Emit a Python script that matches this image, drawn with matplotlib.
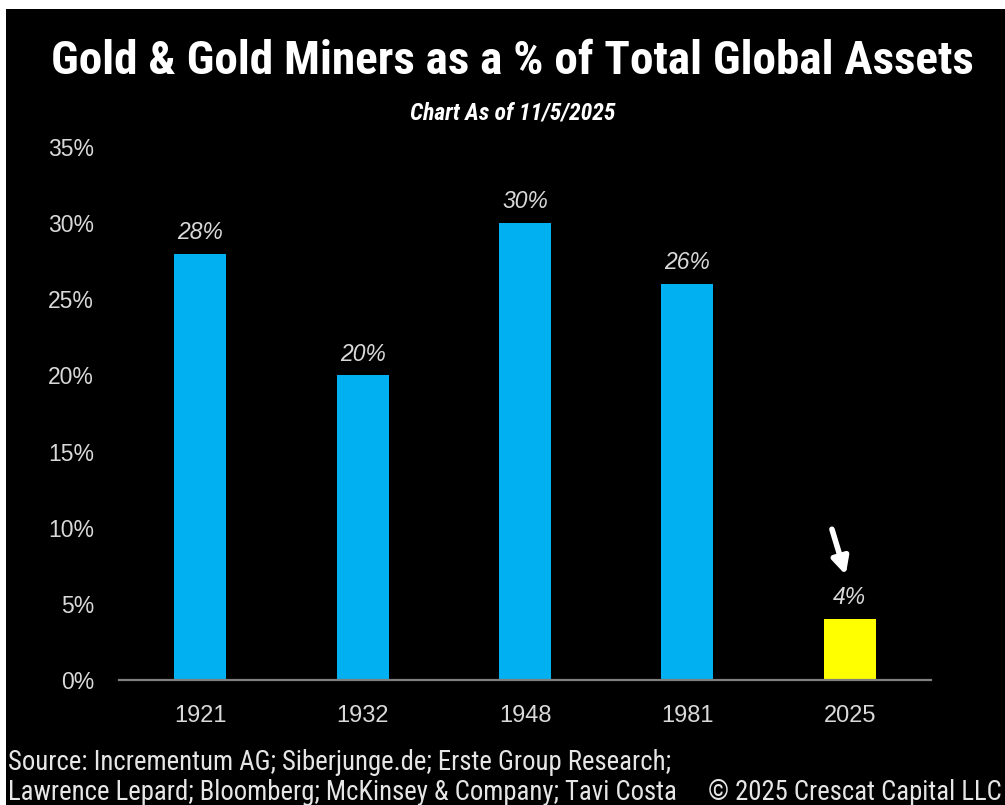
import matplotlib
matplotlib.use("Agg")
import matplotlib.pyplot as plt
from matplotlib.patches import Rectangle

years = ["1921", "1932", "1948", "1981", "2025"]
values = [28, 20, 30, 26, 4]
bar_labels = ["28%", "20%", "30%", "26%", "4%"]
bar_colors = ["#00B0F0", "#00B0F0", "#00B0F0", "#00B0F0", "#FFFF00"]
yticks = [0, 5, 10, 15, 20, 25, 30, 35]
ytick_labels = ["0%", "5%", "10%", "15%", "20%", "25%", "30%", "35%"]

title = "Gold & Gold Miners as a % of Total Global Assets"
subtitle = "Chart As of 11/5/2025"
source1 = "Source: Incrementum AG; Siberjunge.de; Erste Group Research;"
source2 = "Lawrence Lepard; Bloomberg; McKinsey & Company; Tavi Costa"
copyright_txt = "\u00a9 2025 Crescat Capital LLC"

NARROW = ["Roboto Condensed", "Liberation Sans Narrow", "Roboto", "DejaVu Sans"]
SANS = ["Liberation Sans", "Arial", "DejaVu Sans"]

W, H = 1005, 805
fig = plt.figure(figsize=(W / 100, H / 100), dpi=100, facecolor="black")
renderer = fig.canvas.get_renderer()


def fit_text(x_px, y_px, s, target_w, ha="left", **kw):
    t = fig.text(x_px / W, 1 - y_px / H, s, ha=ha, va="center", **kw)
    fs = t.get_fontsize()
    w = t.get_window_extent(renderer).width
    t.set_fontsize(fs * target_w / w)
    return t


# white border (top and left) of the screenshot
fig.add_artist(Rectangle((0, (H - 9) / H), 1, 9 / H, transform=fig.transFigure,
                         facecolor="white", edgecolor="none", zorder=0))
fig.add_artist(Rectangle((0, 0), 6 / W, 1, transform=fig.transFigure,
                         facecolor="white", edgecolor="none", zorder=0))

ax = fig.add_axes([119 / W, (H - 680) / H, (931 - 119) / W, (680 - 147) / H])
ax.set_facecolor("black")

x = list(range(len(years)))
ax.bar(x, values, width=0.32, color=bar_colors, zorder=2)
ax.set_xlim(-0.5, len(years) - 0.5)
ax.set_ylim(0, 35)

for xi, v, lab in zip(x, values, bar_labels):
    ax.annotate(lab, (xi, v), xytext=(0, 7), textcoords="offset points",
                ha="center", va="bottom", fontsize=16.5, style="italic",
                color="#D9D9D9", family=SANS)

ax.set_xticks(x)
ax.set_xticklabels(years)
ax.set_yticks(yticks)
ax.set_yticklabels(ytick_labels)
ax.tick_params(axis="both", length=0, colors="#D9D9D9")
ax.tick_params(axis="y", pad=18, labelsize=16.5)
ax.tick_params(axis="x", pad=18, labelsize=17)
for lbl in ax.get_xticklabels() + ax.get_yticklabels():
    lbl.set_family(SANS)

for s in ["top", "right", "left"]:
    ax.spines[s].set_visible(False)
ax.spines["bottom"].set_color("#7F7F7F")
ax.spines["bottom"].set_linewidth(1.6)

# arrow pointing at the 2025 bar
ax.annotate("", xy=(3.975, 6.9), xytext=(3.89, 9.9),
            arrowprops=dict(arrowstyle="-|>,head_length=1.0,head_width=0.5",
                            color="white", lw=4, shrinkA=0, shrinkB=0))

fit_text(512, 61, title, 925, ha="center", color="white", fontsize=30,
         fontweight="bold", family=NARROW)
fit_text(513, 113, subtitle, 207, ha="center", color="white", fontsize=14,
         fontweight="bold", style="italic", family=NARROW)
t1 = fit_text(8, 762, source1, 665, color="#E6E6E6", fontsize=16, family=NARROW)
fs_src = t1.get_fontsize()
fig.text(8 / W, 1 - 792 / H, source2, ha="left", va="center", color="#E6E6E6",
         fontsize=fs_src, family=NARROW)
fig.text(1002 / W, 1 - 792 / H, copyright_txt, ha="right", va="center", color="#E6E6E6",
         fontsize=fs_src, family=NARROW)

fig.savefig("out.png", dpi=100, facecolor="black")
